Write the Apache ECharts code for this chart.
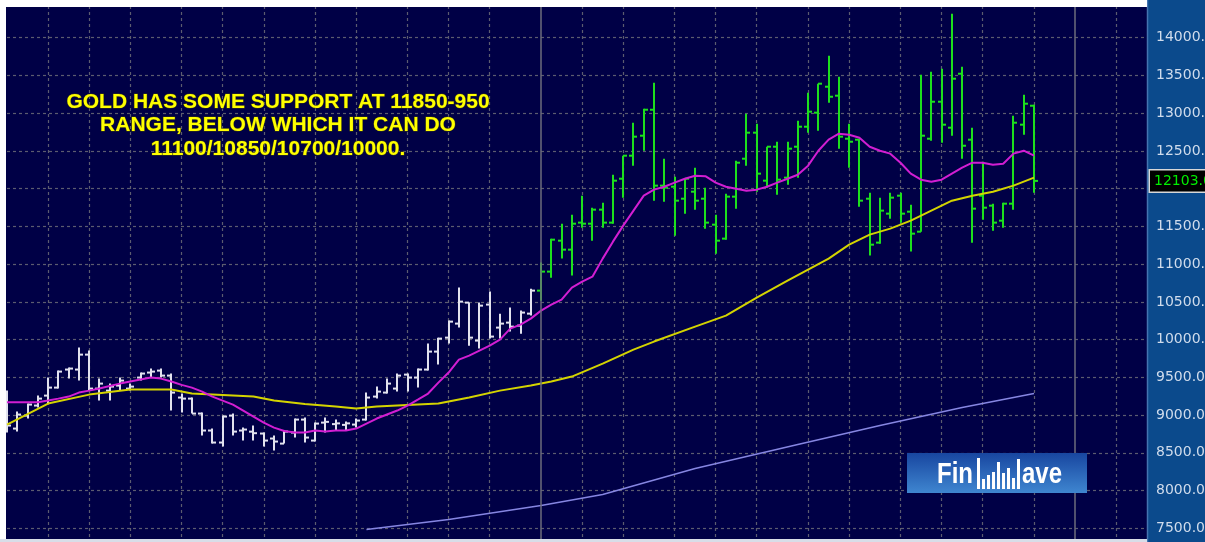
<!DOCTYPE html>
<html>
<head>
<meta charset="utf-8">
<script src="https://cdn.jsdelivr.net/npm/echarts@6/dist/echarts.min.js"></script>
<style>
html, body { margin: 0; padding: 0; background: #fff; }
#chart { width: 1205px; height: 542px; }
</style>
</head>
<body>
<div id="chart"></div>
<script>
// weekly gold bars
var opens = [9245, 8821, 8993, 9126, 9258, 9364, 9603, 9603, 9801, 9351,
	9324, 9391, 9351, 9497, 9563, 9589, 9523, 9232, 9218, 9020,
	8795, 8636, 8993, 8795, 8780, 8755, 8689, 8622, 8768, 8940,
	8662, 8900, 8880, 8870, 8874, 8940, 9245, 9298, 9351, 9536,
	9497, 9603, 9841, 10026, 10212, 10490, 9987, 10464, 10159, 10225,
	10185, 10344, 10649, 10901, 11311, 11192, 11550, 11536, 11722, 11550,
	12132, 12437, 12702, 13046, 12040, 12026, 11867, 11960, 11867, 11523,
	11338, 11894, 12397, 12742, 12106, 12556, 12146, 12556, 12821, 13007,
	13351, 13232, 12662, 12649, 11867, 11285, 11669, 11907, 11695, 11430,
	12662, 13152, 12808, 13523, 12649, 11907, 11775, 11576, 11801, 12848,
	13099];
var highs = [9324, 9046, 9152, 9258, 9497, 9589, 9629, 9894, 9854, 9483,
	9417, 9497, 9417, 9563, 9616, 9616, 9550, 9285, 9232, 9033,
	8821, 8993, 9020, 8834, 8861, 8768, 8728, 8795, 8954, 8967,
	8901, 8967, 8940, 8914, 8954, 9298, 9377, 9483, 9550, 9550,
	9616, 9947, 10026, 10252, 10689, 10490, 10490, 10636, 10344, 10424,
	10384, 10675, 11020, 11338, 11536, 11656, 11907, 11748, 11815, 12185,
	12437, 12874, 13060, 13404, 12397, 12159, 12132, 12278, 12013, 11656,
	11934, 12371, 12993, 12861, 12556, 12622, 12622, 12901, 13271, 13391,
	13762, 13483, 12861, 12662, 11947, 11881, 11947, 11947, 11788, 13510,
	13550, 13589, 14318, 13616, 12808, 12358, 11801, 11815, 12967, 13245,
	13113];
var lows = [8768, 8781, 8954, 9099, 9152, 9351, 9483, 9457, 9324, 9192,
	9192, 9324, 9324, 9457, 9497, 9497, 9060, 9033, 9020, 8728,
	8622, 8583, 8728, 8662, 8662, 8583, 8530, 8622, 8702, 8636,
	8649, 8768, 8795, 8795, 8834, 8927, 9218, 9285, 9311, 9311,
	9364, 9589, 9669, 9947, 10159, 9920, 9881, 10013, 10013, 10106,
	10079, 10318, 10516, 10821, 11073, 10848, 11483, 11311, 11483, 11536,
	11881, 12305, 12503, 11841, 11828, 11377, 11669, 11722, 11470, 11139,
	11324, 11735, 12305, 11960, 12013, 11920, 12053, 12146, 12742, 12768,
	13139, 12530, 12278, 11762, 11113, 11271, 11603, 11550, 11166, 11430,
	12636, 12609, 12702, 12397, 11285, 11589, 11444, 11483, 11722, 12715,
	11947];
var closes = [8861, 9007, 9139, 9218, 9364, 9576, 9616, 9801, 9351, 9417,
	9377, 9457, 9377, 9550, 9576, 9523, 9298, 9218, 9020, 8795,
	8636, 8980, 8781, 8808, 8760, 8662, 8649, 8781, 8940, 8702,
	8887, 8910, 8890, 8890, 8927, 9232, 9311, 9417, 9523, 9497,
	9603, 9841, 10013, 10238, 10503, 10026, 10450, 10040, 10212, 10172,
	10358, 10649, 10901, 11324, 11192, 11536, 11536, 11722, 11550, 12106,
	12437, 12689, 13046, 12040, 12013, 11841, 12132, 11841, 11550, 11311,
	11894, 12344, 12742, 12199, 12556, 12119, 12530, 12821, 13020, 13391,
	13218, 12689, 12622, 11841, 11258, 11709, 11881, 11669, 11404, 12702,
	13152, 12848, 13457, 12569, 11735, 11748, 11550, 11801, 12874, 13126,
	12103];

// magenta average, one value per bar
var fastMa = [9170, 9170, 9170, 9170, 9192, 9218, 9245, 9298, 9324, 9351,
	9384, 9417, 9444, 9470, 9497, 9483, 9444, 9400, 9364, 9311,
	9245, 9192, 9139, 9060, 8980, 8901, 8834, 8788, 8768, 8768,
	8795, 8781, 8795, 8795, 8821, 8887, 8954, 9007, 9060, 9126,
	9205, 9285, 9430, 9563, 9735, 9788, 9854, 9920, 10000, 10146,
	10199, 10278, 10384, 10464, 10530, 10689, 10768, 10834, 11073, 11298,
	11510, 11709, 11907, 11987, 12026, 12080, 12132, 12172, 12165, 12080,
	12026, 12000, 11973, 11987, 12026, 12080, 12132, 12185, 12305, 12503,
	12649, 12728, 12715, 12675, 12556, 12503, 12464, 12344, 12199, 12119,
	12093, 12119, 12199, 12278, 12344, 12344, 12318, 12331, 12464, 12503,
	12437];

// yellow average, read at these weeks
var slowWeeks = [0, 4, 8, 12, 16, 18, 22, 24, 26, 29, 32, 34, 36, 38, 42, 45, 48, 51, 53, 55,
	58, 61, 63, 67, 70, 73, 76, 78, 80, 82, 84, 86, 88, 90, 92, 94, 96, 98, 100];
var slowMa = [8873, 9152, 9271, 9338, 9338, 9285, 9258, 9245, 9192, 9146, 9113, 9086, 9113, 9126, 9152, 9232, 9324, 9391, 9444, 9510,
	9682, 9868, 9974, 10172, 10318, 10556, 10781, 10927, 11073, 11258, 11391, 11470, 11576, 11709, 11841, 11907, 11960, 12040, 12146];

// lavender long average
var longWeeks = [35, 43, 52, 58, 67, 77, 85, 93, 100];
var longMa = [7483, 7616, 7801, 7947, 8291, 8609, 8861, 9099, 9285];

var monthStarts = [4, 8, 12, 17, 21, 25, 30, 34, 39, 43, 47, 52, 56, 60, 65, 69, 73, 78, 82, 87, 91, 95, 100, 104, 108];
var yearStarts = [52, 104];
var yTicks = [7000, 14500, 500];	// min, max, step
var lastClose = closes[closes.length - 1];

var weeks = [];
for (var w = 0; w < 112; w++) {
	weeks.push(String(w));
}

var ohlc = [];
for (var k = 0; k < opens.length; k++) {
	ohlc.push([k, opens[k], closes[k], lows[k], highs[k]]);
}

function pairs(xs, ys) {
	var out = [];
	for (var j = 0; j < xs.length; j++) {
		out.push([xs[j], ys[j]]);
	}
	return out;
}

function renderBar(params, api) {
	var i = api.value(0);
	var x = Math.round(api.coord([i, api.value(1)])[0]);
	var yo = api.coord([i, api.value(1)])[1];
	var yc = api.coord([i, api.value(2)])[1];
	var yl = api.coord([i, api.value(3)])[1];
	var yh = api.coord([i, api.value(4)])[1];
	var col = i >= yearStarts[0] ? '#1de01d' : '#e2e2ee';
	var st = { stroke: col, lineWidth: 2 };
	return {
		type: 'group',
		children: [
			{ type: 'line', shape: { x1: x, y1: yh, x2: x, y2: yl }, style: st },
			{ type: 'line', shape: { x1: x - 4, y1: yo, x2: x, y2: yo }, style: st },
			{ type: 'line', shape: { x1: x, y1: yc, x2: x + 4, y2: yc }, style: st }
		]
	};
}

var myChart = echarts.init(document.getElementById('chart'));

var yearLines = yearStarts.map(function (v) {
	return {
		xAxis: String(v),
		lineStyle: { type: 'solid', color: '#6c6c7c', width: 1.5 },
		label: { show: false }
	};
});
yearLines.push({
	yAxis: lastClose,
	lineStyle: { width: 0, color: 'rgba(0,0,0,0)' },
	label: {
		show: true,
		position: 'end',
		distance: 3,
		formatter: lastClose.toFixed(2),
		color: '#00ee00',
		fontSize: 14,
		fontFamily: 'DejaVu Sans',
		backgroundColor: '#000',
		borderColor: '#d8d8d8',
		borderWidth: 1.5,
		padding: [4, 4, 3, 4]
	}
});

var logoBars = [
	[977, 458], [982, 479], [987, 475], [992, 472], [997, 462],
	[1002, 473], [1007, 468], [1012, 478], [1017, 459]
];

var option = {
	backgroundColor: '#000046',
	animation: false,
	grid: {
		left: 7,
		right: 58,
		top: 0,
		height: 566,
		outerBoundsMode: 'none',
		containLabel: false
	},
	xAxis: {
		type: 'category',
		boundaryGap: false,
		data: weeks,
		axisLine: { show: false },
		axisTick: { show: false },
		axisLabel: { show: false },
		splitLine: {
			show: true,
			interval: function (index) {
				return monthStarts.indexOf(index) >= 0 && yearStarts.indexOf(index) < 0;
			},
			lineStyle: { color: '#5c5c70', type: [3, 3], width: 1.2 }
		}
	},
	yAxis: {
		type: 'value',
		position: 'right',
		min: yTicks[0],
		max: yTicks[1],
		interval: yTicks[2],
		axisLine: { show: false },
		axisTick: { show: false },
		axisLabel: {
			margin: 9,
			color: '#d0dcec',
			fontSize: 14,
			fontFamily: 'DejaVu Sans',
			formatter: function (v) {
				if (v === yTicks[0] || v === yTicks[1] || Math.abs(v - lastClose) < 250) {
					return '';
				}
				return v.toFixed(2);
			}
		},
		splitLine: {
			show: true,
			lineStyle: { color: '#5c5c70', type: [3, 3], width: 1.2 }
		}
	},
	graphic: [
		{ type: 'rect', z: -10, shape: { x: 1147, y: 0, width: 58, height: 542 }, style: { fill: '#0b4a8c' } },
		{ type: 'line', z: -9, shape: { x1: 1147.5, y1: 0, x2: 1147.5, y2: 542 }, style: { stroke: '#4474b0', lineWidth: 1.5 } },
		{ type: 'rect', z: 50, shape: { x: 0, y: 0, width: 1147, height: 7 }, style: { fill: '#ffffff' } },
		{ type: 'rect', z: 50, shape: { x: 0, y: 0, width: 6, height: 542 }, style: { fill: '#ffffff' } },
		{ type: 'rect', z: 50, shape: { x: 0, y: 539, width: 1147, height: 3 }, style: { fill: '#d8dde8' } },
		{
			type: 'text', z: 30, x: 278, y: 90,
			style: {
				text: 'GOLD HAS SOME SUPPORT AT 11850-950\nRANGE, BELOW WHICH IT CAN DO\n11100/10850/10700/10000.',
				fill: '#ffff00',
				stroke: '#3a3a10',
				lineWidth: 1,
				font: 'bold 21px "Liberation Sans", Arial, sans-serif',
				textAlign: 'center',
				textVerticalAlign: 'top',
				lineHeight: 23.5
			}
		},
		{
			type: 'rect', z: 30,
			shape: { x: 907, y: 453, width: 180, height: 40 },
			style: {
				fill: new echarts.graphic.LinearGradient(0, 0, 0, 1, [
					{ offset: 0, color: '#1846a0' },
					{ offset: 1, color: '#3f86d0' }
				])
			}
		},
		{
			type: 'text', z: 31, x: 937, y: 490, scaleX: 0.8,
			style: { text: 'Fin', fill: '#ffffff', font: 'bold 30px "Liberation Sans", Arial, sans-serif', textVerticalAlign: 'bottom' }
		},
		{
			type: 'text', z: 31, x: 1022, y: 490, scaleX: 0.8,
			style: { text: 'ave', fill: '#ffffff', font: 'bold 30px "Liberation Sans", Arial, sans-serif', textVerticalAlign: 'bottom' }
		}
	].concat(logoBars.map(function (b) {
		return { type: 'rect', z: 31, shape: { x: b[0], y: b[1], width: 3, height: 489 - b[1] }, style: { fill: '#ffffff' } };
	})),
	series: [
		{
			type: 'line',
			name: 'long',
			data: pairs(longWeeks, longMa),
			symbol: 'none',
			lineStyle: { color: '#8686e2', width: 1.5 },
			silent: true
		},
		{
			type: 'line',
			name: 'slow',
			data: pairs(slowWeeks, slowMa),
			symbol: 'none',
			lineStyle: { color: '#d4d400', width: 2 },
			silent: true,
			markLine: {
				silent: true,
				symbol: ['none', 'none'],
				data: yearLines
			}
		},
		{
			type: 'custom',
			name: 'gold',
			renderItem: renderBar,
			encode: { x: 0, y: [1, 2, 3, 4] },
			data: ohlc,
			z: 3
		},
		{
			type: 'line',
			name: 'fast',
			data: fastMa,
			symbol: 'none',
			lineStyle: { color: '#d21ed2', width: 2 },
			silent: true,
			z: 4
		}
	]
};

myChart.setOption(option);
</script>
</body>
</html>
